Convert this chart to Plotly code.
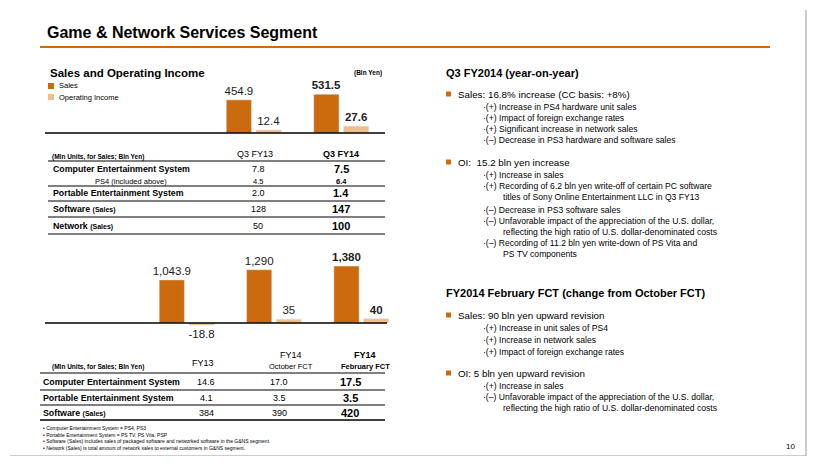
import plotly.graph_objects as go

W, H = 816, 464
OFF = 8  # page body margin
SALES_C = '#CC6A0E'
OI_C = '#F0BE8C'
FONT = 'Liberation Sans'

# --- data ---
q_periods = ['Q3 FY13', 'Q3 FY14']
q_sales = [454.9, 531.5]
q_oi = [12.4, 27.6]
q_sales_lbl = ['454.9', '<b>531.5</b>']
q_oi_lbl = ['12.4', '<b>27.6</b>']

fy_periods = ['FY13', 'FY14 Oct', 'FY14 Feb']
fy_sales = [1043.9, 1290, 1380]
fy_oi = [-18.8, 35, 40]
fy_sales_lbl = ['1,043.9', '1,290', '<b>1,380</b>']
fy_oi_lbl = ['-18.8', '35', '<b>40</b>']

FW, FH = W - 2 * OFF, H - 2 * OFF


def X(px):
    return (px - OFF) / FW


def Y(py):
    return 1 - (py - OFF) / FH


fig = go.Figure()
for xs, ys, lbl, col, xa, ya, grp in [(q_periods, q_sales, q_sales_lbl, SALES_C, 'x', 'y', 's'),
                                       (q_periods, q_oi, q_oi_lbl, OI_C, 'x', 'y3', 'o'),
                                       (fy_periods, fy_sales, fy_sales_lbl, SALES_C, 'x2', 'y2', 's'),
                                       (fy_periods, fy_oi, fy_oi_lbl, OI_C, 'x2', 'y4', 'o')]:
    fig.add_trace(go.Bar(x=xs, y=ys, marker_color=col, text=lbl, textposition='outside',
                         constraintext='none', textfont=dict(size=11.5, color='#222'),
                         cliponaxis=False, offsetgroup=grp, xaxis=xa, yaxis=ya))

ann = []


def t(px, py, s, size=9, bold=False, anchor='left', color='#000'):
    if bold:
        s = '<b>' + s + '</b>'
    ann.append(dict(x=X(px), y=Y(py), xref='paper', yref='paper', text=s, showarrow=False,
                    xanchor=anchor, yanchor='middle', font=dict(size=size, color=color, family=FONT)))


shapes = []


def hline(x0, x1, py, color='#000', w=1):
    shapes.append(dict(type='line', xref='paper', yref='paper', x0=X(x0), x1=X(x1),
                       y0=Y(py), y1=Y(py), line=dict(color=color, width=w)))


def sq(px, py, color, s=6):
    shapes.append(dict(type='rect', xref='paper', yref='paper', x0=X(px), x1=X(px + s),
                       y0=Y(py + s / 2), y1=Y(py - s / 2), fillcolor=color, line_width=0))


# header
t(45, 33, 'Game & Network Services Segment', 16, True)
hline(40, 770, 47, SALES_C, 2)
shapes.append(dict(type='line', xref='paper', yref='paper', x0=X(806), x1=X(806), y0=Y(10), y1=Y(456),
                   line=dict(color='#999', width=1)))
hline(10, 806, 456, '#999', 1)
t(797, 446, '10', 8, anchor='right')

# top-left chart legend
t(48, 73, 'Sales and Operating Income', 11.5, True)
t(384, 73, '(Bln Yen)', 6.5, True, anchor='right')
sq(48, 86, SALES_C)
t(57, 86, 'Sales', 7.5)
sq(48, 97, OI_C)
t(57, 97, 'Operating Income', 7.5)
hline(45, 385, 133, '#000', 1.5)

# quarter table
t(50, 157, '(Mln Units, for Sales; Bln Yen)', 6.5, True)
t(255, 154, 'Q3 FY13', 9, anchor='center')
t(341, 154, 'Q3 FY14', 9, True, anchor='center')
rows = [('Computer Entertainment System', '7.8', '7.5', 169),
        ('Portable Entertainment System', '2.0', '1.4', 193),
        ('Software', '128', '147', 209),
        ('Network', '50', '100', 226)]
for lab, a, b, py in rows:
    s = '<b>' + lab + '</b>'
    if lab in ('Software', 'Network'):
        s += ' <span style="font-size:7px"><b>(Sales)</b></span>'
    t(51, py, s, 8.8)
    t(258, py, a, 9, anchor='center')
    t(341, py, b, 11, True, anchor='center')
t(93, 181, 'PS4 (included above)', 7.5)
t(258, 181, '4.5', 7.5, anchor='center')
t(341, 181, '6.4', 7.5, True, anchor='center')
for py in (161, 186, 201, 217, 234):
    hline(48, 385, py, '#000', 1)

# bottom chart baseline
hline(45, 387, 323, '#000', 1.5)

# annual table
t(50, 367, '(Mln Units, for Sales; Bln Yen)', 6.5, True)
t(203, 363, 'FY13', 9, anchor='center')
t(291, 355, 'FY14', 9, anchor='center')
t(291, 366, 'October FCT', 7.5, anchor='center')
t(365, 355, 'FY14', 9, True, anchor='center')
t(365, 366, 'February FCT', 7.5, True, anchor='center')
rows2 = [('Computer Entertainment System', '14.6', '17.0', '17.5', 382),
         ('Portable Entertainment System', '4.1', '3.5', '3.5', 398),
         ('Software', '384', '390', '420', 413)]
for lab, a, b, c, py in rows2:
    s = '<b>' + lab + '</b>'
    if lab == 'Software':
        s += ' <span style="font-size:7px"><b>(Sales)</b></span>'
    t(41, py, s, 8.8)
    t(206, py, a, 9, anchor='center')
    t(279, py, b, 9, anchor='center')
    t(350, py, c, 11, True, anchor='center')
for py in (373, 390, 405):
    hline(40, 385, py, '#000', 1)
hline(40, 385, 420, '#000', 1.5)
notes = ['Computer Entertainment System = PS4, PS3',
         'Portable Entertainment System = PS TV, PS Vita, PSP',
         'Software (Sales) includes sales of packaged software and networked software in the G&NS segment.',
         'Network (Sales) is total amount of network sales to external customers in G&NS segment.']
for i, n in enumerate(notes):
    t(41, 428 + i * 6.5, '• ' + n, 5)

# right text
t(444, 73, 'Q3 FY2014 (year-on-year)', 11, True)
t(444, 293, 'FY2014 February FCT (change from October FCT)', 11, True)
right = [
    ('b', 94, 'Sales: 16.8% increase (CC basis: +8%)'),
    ('s', 107, '·(+) Increase in PS4 hardware unit sales'),
    ('s', 118, '·(+) Impact of foreign exchange rates'),
    ('s', 129, '·(+) Significant increase in network sales'),
    ('s', 140, '·(–) Decrease in PS3 hardware and software sales'),
    ('b', 162, 'OI:  15.2 bln yen increase'),
    ('s', 175, '·(+) Increase in sales'),
    ('s', 186, '·(+) Recording of 6.2 bln yen write-off of certain PC software'),
    ('t', 197, 'titles of Sony Online Entertainment LLC in Q3 FY13'),
    ('s', 210, '·(–) Decrease in PS3 software sales'),
    ('s', 221, '·(–) Unfavorable impact of the appreciation of the U.S. dollar,'),
    ('t', 232, 'reflecting the high ratio of U.S. dollar-denominated costs'),
    ('s', 243, '·(–) Recording of 11.2 bln yen write-down of PS Vita and'),
    ('t', 254, 'PS TV components'),
    ('b', 315, 'Sales: 90 bln yen upward revision'),
    ('s', 328, '·(+) Increase in unit sales of PS4'),
    ('s', 340, '·(+) Increase in network sales'),
    ('s', 352, '·(+) Impact of foreign exchange rates'),
    ('b', 373, 'OI: 5 bln yen upward revision'),
    ('s', 386, '·(+) Increase in sales'),
    ('s', 397, '·(–) Unfavorable impact of the appreciation of the U.S. dollar,'),
    ('t', 408, 'reflecting the high ratio of U.S. dollar-denominated costs'),
]
for kind, py, s in right:
    if kind == 'b':
        sq(446, py, SALES_C, 5)
        t(456, py, s, 9.8)
    elif kind == 's':
        t(481, py, s, 8.6)
    else:
        t(501, py, s, 8.6)

fig.update_layout(
    width=FW, height=FH, margin=dict(l=0, r=0, t=0, b=0),
    plot_bgcolor='white', paper_bgcolor='white', showlegend=False,
    barmode='group', bargap=0.32, bargroupgap=0.15,
    font=dict(family=FONT),
    xaxis=dict(domain=[X(210), X(385)], showticklabels=False, showline=False, showgrid=False, zeroline=False),
    yaxis=dict(domain=[Y(133), Y(82)], range=[0, 700], visible=False),
    yaxis3=dict(overlaying='y', range=[0, 204], visible=False),
    xaxis2=dict(domain=[X(143), X(405)], anchor='y2', showticklabels=False, showline=False, showgrid=False, zeroline=False),
    yaxis2=dict(domain=[Y(327), Y(257)], range=[-100, 1600], visible=False),
    yaxis4=dict(overlaying='y2', range=[-36, 600], visible=False),
    annotations=ann, shapes=shapes,
)
fig.write_html('out.html')
